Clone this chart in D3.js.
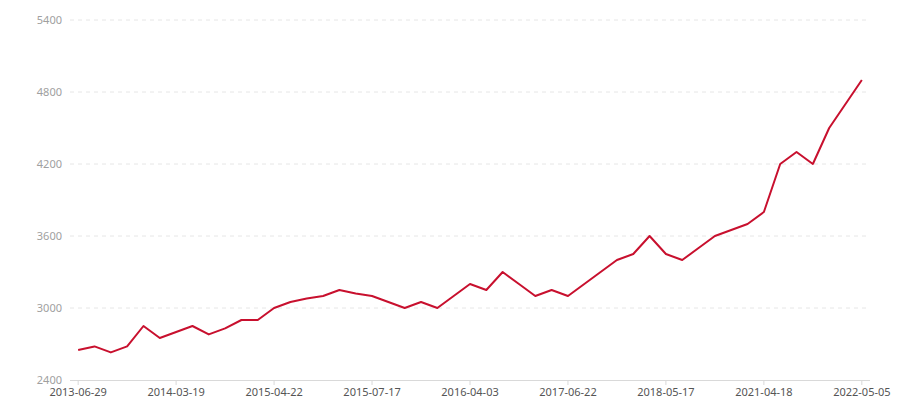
<!DOCTYPE html>
<html><head><meta charset="utf-8">
<script src="https://cdn.jsdelivr.net/npm/d3@7"></script>
<style>body{margin:0;background:#fff}svg{display:block;font-family:"Noto Sans","Open Sans",sans-serif}</style>
</head><body><svg id="c" width="900" height="400"></svg>
<script>
const labelDates = ["2013-06-29","2014-03-19","2015-04-22","2015-07-17","2016-04-03","2017-06-22","2018-05-17","2021-04-18","2022-05-05"];
const values = [2650,2680,2630,2680,2850,2750,2800,2850,2780,2830,2900,2900,
  3000,3050,3080,3100,3150,3120,3100,3050,3000,3050,3000,3100,
  3200,3150,3300,3200,3100,3150,3100,3200,3300,3400,3450,3600,
  3450,3400,3500,3600,3650,3700,3800,4200,4300,4200,4500,4700,4900];
const yTicks = [2400,3000,3600,4200,4800,5400];

const categories = values.map((v,i)=> i%6===0 ? labelDates[i/6] : "p"+i);
const svg = d3.select("#c");
const L=70,R=870,T=20,B=380;
const x = d3.scaleBand().domain(categories).range([L,R]);
const y = d3.scaleLinear().domain([2400,5400]).range([B,T]);

svg.append("g").selectAll("line").data(yTicks.slice(1)).join("line")
  .attr("x1",L).attr("x2",R).attr("y1",d=>y(d)).attr("y2",d=>y(d))
  .attr("stroke","#e6e6e6").attr("stroke-dasharray","4,4");

svg.append("g").selectAll("text").data(yTicks).join("text")
  .attr("x",L-8).attr("y",d=>y(d)).attr("dy","0.35em").attr("text-anchor","end")
  .attr("font-size",11).attr("fill","#a0a0a0").text(d=>d);

const xAxis = d3.axisBottom(x).tickValues(labelDates).tickSize(5).tickSizeOuter(0).tickPadding(3);
const gx = svg.append("g").attr("transform",`translate(0,${B})`).call(xAxis);
gx.select(".domain").attr("stroke","#d9d9d9").attr("d",`M${L},0.5H${R}`);
gx.selectAll(".tick line").attr("stroke","#d9d9d9");
gx.selectAll(".tick text").attr("fill","#555").attr("font-size",11).attr("font-family",'"Noto Sans","Open Sans",sans-serif');

const line = d3.line().x((d,i)=>x(categories[i])+x.bandwidth()/2).y(d=>y(d));
svg.append("path").datum(values).attr("d",line).attr("fill","none")
  .attr("stroke","#c8102e").attr("stroke-width",2).attr("stroke-linejoin","round");
</script></body></html>
